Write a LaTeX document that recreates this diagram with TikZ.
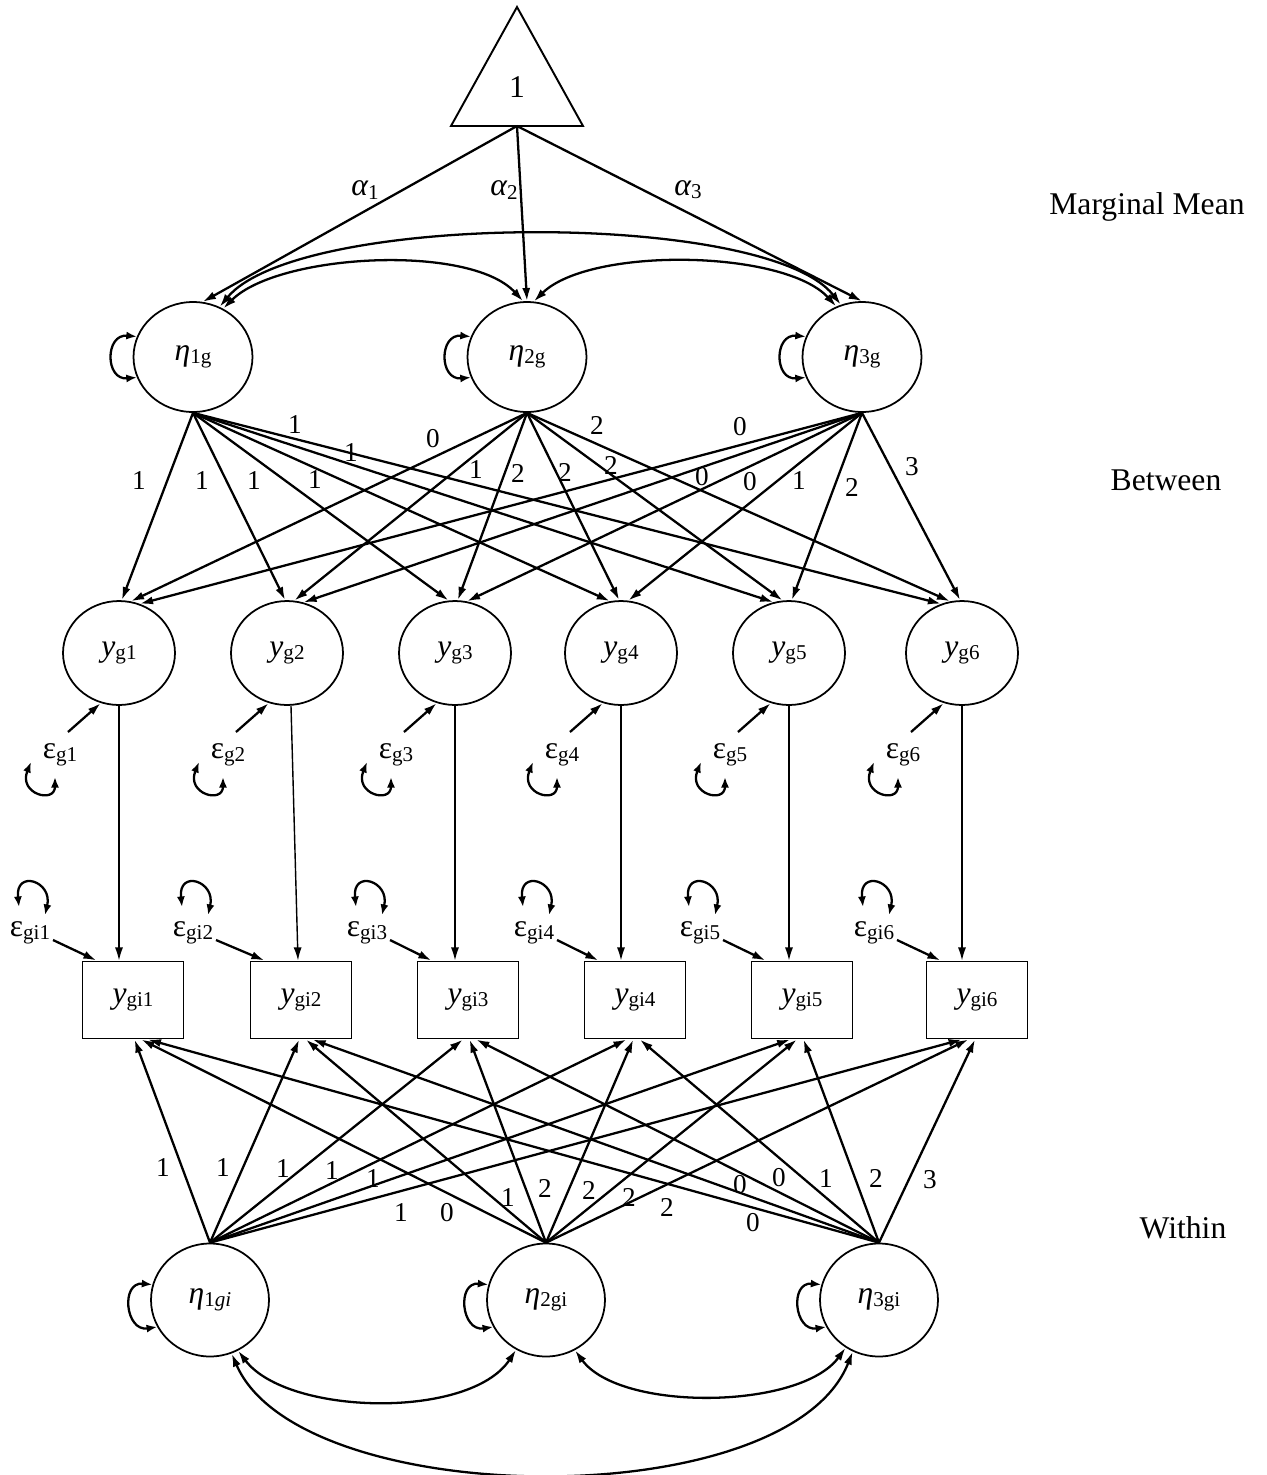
\documentclass[tikz,border=0pt]{standalone}
\usepackage{fontspec}
\setmainfont{Liberation Serif}
\usetikzlibrary{arrows.meta,calc,shapes.geometric}
\newcommand\sbs[1]{\raisebox{-1.8pt}{\fontsize{12}{12}\selectfont #1}}
\begin{document}
\begin{tikzpicture}[x=0.02cm,y=-0.02cm,
  every node/.style={font=\fontsize{18}{20}\selectfont, inner sep=0pt},
  lat/.style={ellipse, draw, line width=1pt, minimum width=2.38cm, minimum height=2.2cm},
  latw/.style={ellipse, draw, line width=1pt, minimum width=2.36cm, minimum height=2.26cm},
  obs/.style={ellipse, draw, line width=1pt, minimum width=2.24cm, minimum height=2.08cm},
  box/.style={rectangle, draw, line width=1.1pt, minimum width=2.02cm, minimum height=1.54cm},
  arr/.style={-{Latex[length=7.5pt,width=4.6pt]}, line width=1.3pt},
  thinarr/.style={-{Latex[length=7.5pt,width=4.6pt]}, line width=0.8pt},
  dbl/.style={{Latex[length=7.5pt,width=4.6pt]}-{Latex[length=7.5pt,width=4.6pt]}, line width=1.3pt},
  loopy/.style={{Latex[length=6pt,width=4.6pt]}-{Latex[length=6pt,width=4.6pt]}, line width=1.3pt},
  num/.style={font=\fontsize{15.5}{17}\selectfont},
]
\useasboundingbox (0,0) rectangle (1267,1475);

% triangle
\draw[line width=1.1pt] (517,7) -- (583,126) -- (451,126) -- cycle;
\coordinate (tri) at (517,126);
\node (one) at (517,87) {1};

% latent between
\node[lat] (eg1) at (193,357) {{\itshape η}\sbs{1g}};
\node[lat] (eg2) at (527,357) {{\itshape η}\sbs{2g}};
\node[lat] (eg3) at (862,357) {{\itshape η}\sbs{3g}};

% observed between
\foreach \k/\x in {1/119,2/287,3/455,4/621,5/789,6/962}{
  \node[obs] (yg\k) at (\x,653) {{\itshape y}\sbs{g\k}};
  \node (epsg\k) at ({\x-59},755) {ε\sbs{g\k}};
}
% boxes
\foreach \k/\x/\ex in {1/133/30,2/301/193,3/468/367,4/635/534,5/802/700,6/977/874}{
  \node[box] (ygi\k) at (\x,1000) {{\itshape y}\sbs{gi\k}};
  \node (epsw\k) at (\ex,933) {ε\sbs{gi\k}};
}
% latent within
\node[latw] (ew1) at (210,1300) {{\itshape η}\sbs{1\textit{gi}}};
\node[latw] (ew2) at (546,1300) {{\itshape η}\sbs{2gi}};
\node[latw] (ew3) at (879,1300) {{\itshape η}\sbs{3gi}};

% side labels
\node (mm) at (1147,207) {Marginal Mean};
\node (btw) at (1166,480) {Between};
\node (wth) at (1183,1228) {Within};

% alpha paths
\draw[arr] (tri) -- (eg1.80);
\draw[arr] (tri) -- (eg2.north);
\draw[arr] (tri) -- (eg3.north);
\node (a1) at (365,190) {{\itshape α}\sbs{1}};
\node (a2) at (504,190) {{\itshape α}\sbs{2}};
\node (a3) at (688,190) {{\itshape α}\sbs{3}};

% covariances top
\draw[dbl] (eg1.58) .. controls +(55,-55) and +(-53,-58) .. (eg2.94);
\draw[dbl] (eg2.83) .. controls +(56,-55) and +(-52,-57) .. (eg3.117);
\draw[dbl] (eg1.62) .. controls +(78,-95) and +(-75,-95) .. (eg3.112);

% self loops
\foreach \e in {eg1,eg2,eg3}{
  \draw[loopy] (\e.160) .. controls +(-32,-3) and +(-32,3) .. (\e.200);
}
\foreach \e in {ew1,ew2,ew3}{
  \draw[loopy] (\e.165) .. controls +(-32,-3) and +(-32,5) .. (\e.207);
}

% between loadings
\foreach \i/\sx in {1/193,2/527,3/862}{
  \foreach \j/\tx in {1/119,2/287,3/455,4/621,5/789,6/962}{
    \pgfmathtruncatemacro\ang{90-0.03*(\sx-\tx)}
    \draw[arr] (eg\i.south) -- (yg\j.\ang);
  }
}
\foreach \n/\x/\y/\t in {b11/139/480/1, b12/202/480/1, b13/254/480/1, b14/315/479/1, b15/351/453/1, b16/295/425/1, b21/433/439/0, b22/476/470/1, b23/518/473/2, b24/565/472/2, b25/611/465/2, b26/597/425/2, b31/740/427/0, b32/702/477/0, b33/750/482/0, b34/799/480/1, b35/852/487/2, b36/912/467/3}{
  \node[num] (\n) at (\x,\y) {\t};
}

% epsilon g
\foreach \k in {1,...,6}{
  \draw[arr] ([xshift=0.16cm,yshift=0.46cm]epsg\k.center) -- (yg\k.250);
  \draw[loopy] ([xshift=-0.58cm,yshift=-0.14cm]epsg\k.center) .. controls +(-13,32) and +(0,27) .. ([xshift=-0.1cm,yshift=-0.44cm]epsg\k.center);
}
% vertical
\foreach \k in {1,3,4,5,6}{
  \draw[thinarr] (yg\k.south) -- (yg\k.south |- ygi\k.north);
}
\draw[thinarr] ([xshift=0.08cm]yg2.south) -- ([xshift=-0.06cm]ygi2.north);

% epsilon gi
\foreach \k in {1,...,6}{
  \draw[arr] ([xshift=0.46cm,yshift=-0.14cm]epsw\k.center) -- ([xshift=0.3cm]ygi\k.north west);
  \draw[loopy] ([xshift=-0.22cm,yshift=0.52cm]epsw\k.center) .. controls +(-4,-38) and +(8,-34) .. ([xshift=0.3cm,yshift=0.36cm]epsw\k.center);
}

% within loadings
\foreach \i/\sx in {1/210,2/546,3/879}{
  \foreach \j/\tx in {1/133,2/301,3/468,4/635,5/802,6/977}{
    \pgfmathsetmacro\off{0.0004*(\sx-\tx)}
    \draw[arr] (ew\i.north) -- ([xshift=\off cm]ygi\j.south);
  }
}
\foreach \n/\x/\y/\t in {w11/163/1167/1, w12/223/1167/1, w13/283/1168/1, w14/332/1170/1, w15/373/1178/1, w16/401/1212/1, w21/447/1213/0, w22/508/1197/1, w23/545/1188/2, w24/589/1190/2, w25/629/1197/2, w26/667/1207/2, w31/753/1223/0, w32/740/1185/0, w33/779/1178/0, w34/826/1178/1, w35/876/1178/2, w36/930/1180/3}{
  \node[num] (\n) at (\x,\y) {\t};
}

% covariances bottom
\draw[dbl] (ew1.299) .. controls +(49,65) and +(-46,70) .. (ew2.239);
\draw[dbl] (ew2.300) .. controls +(45,62) and +(-45,62) .. (ew3.235);
\draw[dbl] (ew1.292) .. controls +(68,158) and +(-65,165) .. (ew3.243);
\end{tikzpicture}
\end{document}
